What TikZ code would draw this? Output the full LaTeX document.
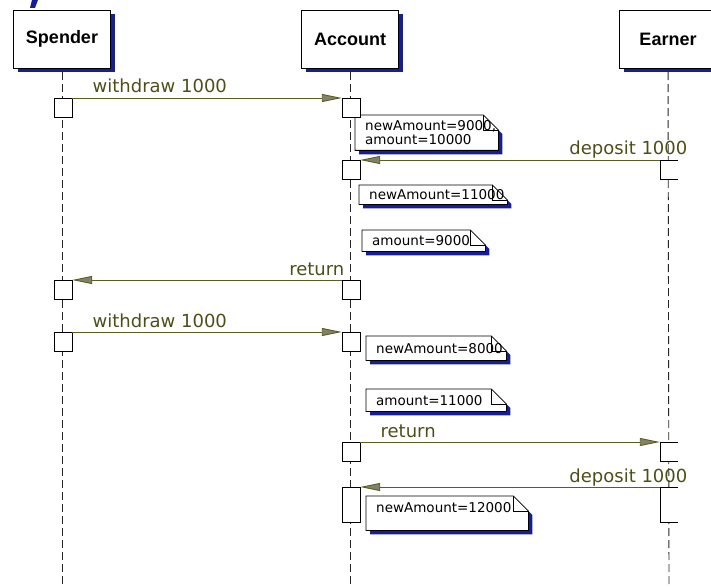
\documentclass[tikz,border=0pt]{standalone}
\usepackage{fontspec}
\setmainfont{DejaVu Sans}
\newfontfamily\headfont{Liberation Sans}
\usetikzlibrary{arrows.meta,shadows,backgrounds}
\definecolor{olivemsg}{RGB}{92,92,30}
\definecolor{olivetext}{RGB}{78,78,26}
\definecolor{headgray}{RGB}{130,130,108}
\definecolor{shadowblue}{RGB}{22,30,150}
\newcommand\dogear[1]{%
\begin{scope}[on background layer]
\fill[shadowblue,transform canvas={shift={(4pt,-4pt)}}] (#1.north west) -- ([xshift=-15pt]#1.north east) -- ([yshift=-15pt]#1.north east) -- (#1.south east) -- (#1.south west) -- cycle;
\filldraw[fill=white,draw=black,line width=0.8pt] (#1.north west) -- ([xshift=-15pt]#1.north east) -- ([yshift=-15pt]#1.north east) -- (#1.south east) -- (#1.south west) -- cycle;
\draw[line width=0.8pt] ([xshift=-15pt]#1.north east) -- ++(0,15) -- ++(15,0);
\end{scope}}
\begin{document}
\begin{tikzpicture}[x=1pt,y=-1pt,
actor/.style={draw,fill=white,minimum width=97pt,minimum height=58pt,font=\headfont\bfseries\fontsize{18}{20}\selectfont,drop shadow={shadow xshift=4pt,shadow yshift=-4pt,fill=shadowblue,opacity=1}},
act/.style={draw,fill=white,minimum width=18pt,minimum height=19pt,inner sep=0pt,anchor=north},
lifeline/.style={draw=black!85,line width=0.9pt,dash pattern=on 8pt off 4pt,shorten <=4pt},
msg/.style={draw=olivemsg,line width=0.9pt,-{Triangle[length=20pt,width=8pt,fill=headgray]}},
msglabel/.style={text=olivetext,font=\fontsize{18}{20}\selectfont,inner sep=0pt},
note/.style={inner xsep=10pt,inner ysep=0pt,anchor=north west,align=left,font=\fontsize{13.5}{14}\selectfont}]
\useasboundingbox (0,0) rectangle (711,588);
\clip (0,0) rectangle (711,588);
\fill[shadowblue] (32,0) -- (38,0) -- (35,8) -- (30,8) -- cycle;
\node[actor] (spender) at (62,39) {Spender};
\node[actor] (account) at (350,39) {Account};
\node[actor] (earner) at (668,39) {Earner};
\coordinate (spender end) at (62,588);
\coordinate (account end) at (350,588);
\coordinate (earner end) at (669,588);
\draw[lifeline] (spender) -- (spender end);
\draw[lifeline] (account) -- (account end);
\draw[lifeline] (earner) -- (earner end);
\node[act] (s1) at (63,98) {};
\node[act] (a1) at (351,98) {};
\node[act] (a2) at (351,160) {};
\node[act,draw=none] (e1) at (669,160) {};
\node[act] (s3) at (63,280) {};
\node[act] (a3) at (351,280) {};
\node[act] (s4) at (63,332) {};
\node[act] (a4) at (351,332) {};
\node[act] (a5) at (351,442) {};
\node[act,draw=none] (e5) at (669,442) {};
\node[act,minimum height=35pt] (a6) at (351,487) {};
\node[act,draw=none,minimum height=35pt] (e6) at (669,487) {};
\draw (e1.north east) -- (e1.north west) -- (e1.south west) -- (e1.south east);
\draw (e5.north east) -- (e5.north west) -- (e5.south west) -- (e5.south east);
\draw (e6.north east) -- (e6.north west) -- (e6.south west) -- (e6.south east);
\draw[msg] (s1.north east) -- node[msglabel,pos=0,anchor=base west,shift={(20pt,5pt)}] {withdraw 1000} (a1.north west);
\draw[msg] (e1.north west) -- node[msglabel,pos=0,anchor=base east,shift={(28pt,5pt)}] {deposit 1000} (a2.north east);
\draw[msg] (a3.north west) -- node[msglabel,pos=0,anchor=base east,shift={(3pt,5pt)}] {return} (s3.north east);
\draw[msg] (s4.north east) -- node[msglabel,pos=0,anchor=base west,shift={(20pt,5pt)}] {withdraw 1000} (a4.north west);
\draw[msg] (a5.north east) -- node[msglabel,pos=0,anchor=base west,shift={(20pt,5pt)}] {return} (e5.north west);
\draw[msg] (e6.north west) -- node[msglabel,pos=0,anchor=base east,shift={(28pt,5pt)}] {deposit 1000} (a6.north east);
\node[note,text width=123pt,minimum height=35pt] (n1) at (355,115) {newAmount=9000,\\amount=10000};
\node[note,text width=128pt,minimum height=19pt] (n2) at (359,185) {newAmount=11000};
\node[note,text width=103pt,minimum height=21pt] (n3) at (362,230) {amount=9000};
\node[note,text width=120pt,minimum height=24pt] (n4) at (366,336) {newAmount=8000};
\node[note,text width=120pt,minimum height=22pt] (n5) at (366,389) {amount=11000};
\node[note,text width=142pt,text height=16pt,text depth=18pt] (n6) at (366,496) {newAmount=12000};
\dogear{n1}
\dogear{n2}
\dogear{n3}
\dogear{n4}
\dogear{n5}
\dogear{n6}
\end{tikzpicture}
\end{document}
